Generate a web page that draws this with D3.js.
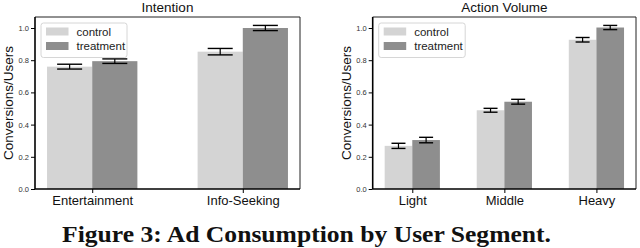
<!DOCTYPE html>
<html>
<head>
<meta charset="utf-8">
<script src="https://cdn.jsdelivr.net/npm/d3@7"></script>
<style>
  body { margin: 0; background: #fff; }
  svg { display: block; }
</style>
</head>
<body>
<div id="chart"></div>
<script>
// data
const seriesNames = ["control", "treatment"];

const intentionCats = ["Entertainment", "Info-Seeking"];
const intentionControl = [0.76, 0.853];
const intentionTreatment = [0.794, 1.0];
const intentionControlErr = [0.015, 0.02];
const intentionTreatmentErr = [0.014, 0.016];

const volumeCats = ["Light", "Middle", "Heavy"];
const volumeControl = [0.268, 0.489, 0.927];
const volumeTreatment = [0.304, 0.542, 1.003];
const volumeControlErr = [0.016, 0.012, 0.014];
const volumeTreatmentErr = [0.017, 0.015, 0.013];

const yTicks = [0.0, 0.2, 0.4, 0.6, 0.8, 1.0];
const captionText = "Figure 3: Ad Consumption by User Segment.";

const colors = ["#d4d4d4", "#8e8e8e"];
const W = 640, H = 248;
const sansFont = "'Liberation Sans', Arial, sans-serif";

const svg = d3.select("#chart").append("svg")
  .attr("width", W)
  .attr("height", H);

function drawPanel(opts) {
  const { title, cats, control, treatment, controlErr, treatmentErr, left, right, capW, ylabelX } = opts;
  const top = 17, bottom = 189;
  const barW = 0.3;
  const n = cats.length;

  const x = d3.scaleLinear()
    .domain([-barW - 0.05 * (n - 1 + 2 * barW), n - 1 + barW + 0.05 * (n - 1 + 2 * barW)])
    .range([left, right]);
  const y = d3.scaleLinear()
    .domain([0, 1])
    .range([bottom, 28]);

  const g = svg.append("g");

  const rows = [];
  cats.forEach((c, i) => {
    rows.push({ i, s: 0, v: control[i], e: controlErr[i] });
    rows.push({ i, s: 1, v: treatment[i], e: treatmentErr[i] });
  });

  // bars
  g.selectAll("rect.bar")
    .data(rows)
    .join("rect")
    .attr("class", "bar")
    .attr("x", (d) => x(d.i + (d.s === 0 ? -barW : 0)))
    .attr("width", (d) => x(barW) - x(0))
    .attr("y", (d) => y(d.v))
    .attr("height", (d) => y(0) - y(d.v))
    .attr("fill", (d) => colors[d.s]);

  // error bars
  const eb = g.selectAll("g.err")
    .data(rows)
    .join("g")
    .attr("class", "err")
    .attr("transform", (d) => `translate(${x(d.i + (d.s === 0 ? -barW / 2 : barW / 2))},0)`);
  eb.append("line")
    .attr("y1", (d) => y(d.v - d.e))
    .attr("y2", (d) => y(d.v + d.e))
    .attr("stroke", "#000")
    .attr("stroke-width", 1.2);
  eb.selectAll("line.cap")
    .data((d) => [d.v - d.e, d.v + d.e])
    .join("line")
    .attr("class", "cap")
    .attr("x1", -capW / 2)
    .attr("x2", capW / 2)
    .attr("y1", (d) => y(d))
    .attr("y2", (d) => y(d))
    .attr("stroke", "#000")
    .attr("stroke-width", 1.4);

  // frame
  g.append("line").attr("x1", left).attr("x2", right).attr("y1", top).attr("y2", top)
    .attr("stroke", "#222").attr("stroke-width", 1);
  g.append("line").attr("x1", right).attr("x2", right).attr("y1", top).attr("y2", bottom)
    .attr("stroke", "#222").attr("stroke-width", 1);

  // y axis
  const yAxis = g.append("g")
    .attr("transform", `translate(${left},0)`)
    .call(d3.axisLeft(y).tickValues(yTicks).tickFormat(d3.format(".1f")).tickSize(4).tickPadding(2));
  yAxis.select(".domain").attr("stroke", "#000").attr("stroke-width", 1.6).attr("d", `M0,${top}V${bottom}`);
  yAxis.selectAll("text").attr("font-family", sansFont).attr("font-size", 7.5).attr("fill", "#333");

  // x axis
  const xAxis = g.append("g")
    .attr("transform", `translate(0,${bottom})`)
    .call(d3.axisBottom(x).tickValues(d3.range(n)).tickFormat((d) => cats[d]).tickSize(4).tickPadding(3));
  xAxis.select(".domain").attr("stroke", "#000").attr("stroke-width", 1.6).attr("d", `M${left},0H${right}`);
  xAxis.selectAll("text").attr("font-family", sansFont).attr("font-size", 13).attr("fill", "#111");

  // title
  g.append("text")
    .attr("x", (left + right) / 2)
    .attr("y", 12)
    .attr("text-anchor", "middle")
    .attr("font-family", sansFont)
    .attr("font-size", 13.5)
    .attr("fill", "#111")
    .text(title);

  // y label
  g.append("text")
    .attr("transform", `translate(${ylabelX},${(top + bottom) / 2}) rotate(-90)`)
    .attr("text-anchor", "middle")
    .attr("dominant-baseline", "central")
    .attr("font-family", sansFont)
    .attr("font-size", 13.5)
    .attr("fill", "#111")
    .text("Conversions/Users");

  // legend
  const lx = left + 6, ly = 23;
  const lg = g.append("g").attr("transform", `translate(${lx},${ly})`);
  lg.append("rect")
    .attr("width", opts.legendW)
    .attr("height", 34.5)
    .attr("rx", 2.5)
    .attr("fill", "#fff")
    .attr("fill-opacity", 0.85)
    .attr("stroke", "#d6d6d6")
    .attr("stroke-width", 1);
  const item = lg.selectAll("g.item")
    .data(seriesNames)
    .join("g")
    .attr("class", "item")
    .attr("transform", (d, i) => `translate(5,${4.5 + i * 14.5})`);
  item.append("rect")
    .attr("width", opts.patchW)
    .attr("height", 8)
    .attr("fill", (d, i) => colors[i]);
  item.append("text")
    .attr("x", opts.patchW + 8)
    .attr("y", 8)
    .attr("font-family", sansFont)
    .attr("font-size", 11.5)
    .attr("fill", "#222")
    .text((d) => d);
}

drawPanel({
  title: "Intention",
  cats: intentionCats,
  control: intentionControl,
  treatment: intentionTreatment,
  controlErr: intentionControlErr,
  treatmentErr: intentionTreatmentErr,
  left: 35, right: 300, capW: 25, ylabelX: 8,
  legendW: 86, patchW: 22.5
});

drawPanel({
  title: "Action Volume",
  cats: volumeCats,
  control: volumeControl,
  treatment: volumeTreatment,
  controlErr: volumeControlErr,
  treatmentErr: volumeTreatmentErr,
  left: 372.7, right: 636, capW: 14, ylabelX: 346,
  legendW: 86.5, patchW: 22.5
});

// caption
svg.append("text")
  .attr("x", 62)
  .attr("y", 241.5)
  .attr("textLength", 489)
  .attr("lengthAdjust", "spacingAndGlyphs")
  .attr("font-family", "'Liberation Serif', 'Times New Roman', serif")
  .attr("font-weight", "bold")
  .attr("font-size", 23)
  .attr("fill", "#111")
  .text(captionText);
</script>
</body>
</html>
